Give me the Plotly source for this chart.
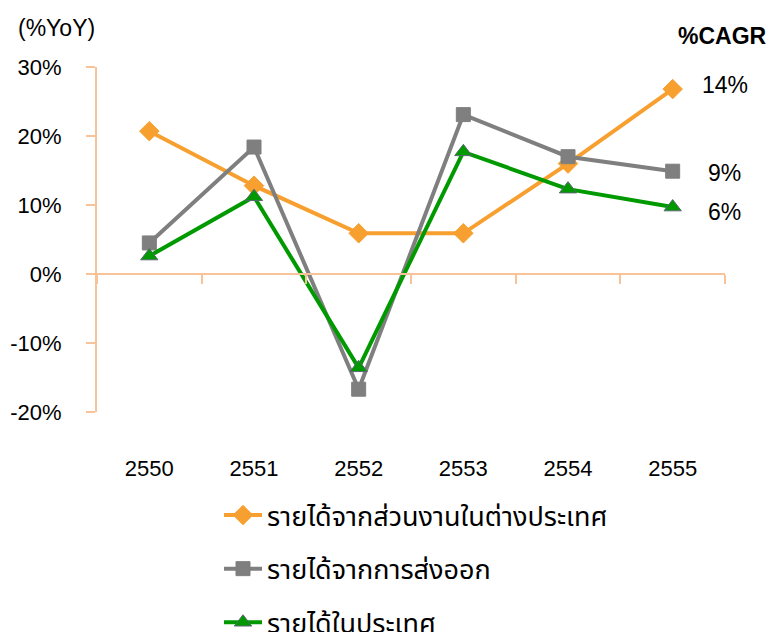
import plotly.graph_objects as go

years = ["2550", "2551", "2552", "2553", "2554", "2555"]
overseas = [20.7, 12.8, 5.9, 5.9, 16.0, 26.8]
export = [4.5, 18.4, -16.7, 23.1, 17.0, 14.9]
domestic = [2.6, 11.2, -13.6, 17.7, 12.3, 9.7]
names = ["รายได้จากส่วนงานในต่างประเทศ", "รายได้จากการส่งออก", "รายได้ในประเทศ"]
cagr = ["14%", "9%", "6%"]
y_ticks = [30, 20, 10, 0, -10, -20]
y_tick_text = ["30%", "20%", "10%", "0%", "-10%", "-20%"]

colors = ["#F7A030", "#7F7F7F", "#009A00"]
symbols = ["diamond", "square", "triangle-up"]
series = [overseas, export, domestic]
axis_color = "#F9C39A"
font_main = "Liberation Sans, Arial, sans-serif"
font_thai = "Noto Sans Thai, Loma, Garuda, Tlwg Typo, Noto Sans, sans-serif"

fig = go.Figure()
for i, (vals, name) in enumerate(zip(series, names)):
    fig.add_trace(go.Scatter(
        x=years, y=vals, name=name, mode="lines+markers",
        line=dict(color=colors[i], width=4),
        marker=dict(symbol=symbols[i], size=15 if i != 1 else 14, color=colors[i],
                    line=dict(color="#5A6673" if i == 2 else colors[i], width=1)),
        legendgroup=str(i), xaxis="x", yaxis="y",
    ))

# invisible helper trace for the zero-crossing category axis
fig.add_trace(go.Scatter(x=years, y=[0] * len(years), mode="markers",
                         marker=dict(opacity=0), showlegend=False, hoverinfo="skip",
                         xaxis="x2", yaxis="y"))

# CAGR labels next to the last point of each series
shifts = [4, -2, -5]
for i, vals in enumerate(series):
    fig.add_annotation(x=len(years) - 1, y=vals[-1], xref="x", yref="y", text=cagr[i],
                       showarrow=False, xshift=52, yshift=shifts[i],
                       xanchor="center", yanchor="middle",
                       font=dict(size=23, color="black", family=font_main))

fig.add_annotation(x=(56 - 97) / 628, y=(412 - 28) / 345, xref="paper", yref="paper",
                   text="(%YoY)", showarrow=False, xanchor="center", yanchor="middle",
                   font=dict(size=23, color="black", family=font_main))
fig.add_annotation(x=(722 - 97) / 628, y=(412 - 36) / 345, xref="paper", yref="paper",
                   text="<b>%CAGR</b>", showarrow=False, xanchor="center", yanchor="middle",
                   font=dict(size=23, color="black", family=font_main))

fig.update_layout(
    width=769, height=632,
    margin=dict(l=97, r=44, t=67, b=220, autoexpand=False),
    plot_bgcolor="white", paper_bgcolor="white",
    showlegend=True,
    legend=dict(x=(219 - 97) / 628, y=(412 - 491) / 345,
                xanchor="left", yanchor="top",
                orientation="v", traceorder="grouped", tracegroupgap=15.5,
                itemwidth=38,
                font=dict(size=27, family=font_thai, color="black"),
                bgcolor="rgba(0,0,0,0)"),
    xaxis=dict(type="category", categoryorder="array", categoryarray=years,
               range=[-0.5, 5.5], showline=False, showgrid=False, zeroline=False,
               ticks="", ticklabelstandoff=41, automargin=False,
               tickfont=dict(size=22, family=font_main, color="black")),
    xaxis2=dict(type="category", categoryorder="array", categoryarray=years,
                range=[-0.5, 5.5], overlaying="x", anchor="free", position=0.4,
                side="bottom", showline=True, linecolor=axis_color, linewidth=2,
                ticks="outside", tickson="boundaries", ticklen=9, tickcolor=axis_color,
                tickwidth=2, showticklabels=False, showgrid=False, zeroline=False),
    yaxis=dict(range=[-20, 30], tickvals=y_ticks, ticktext=y_tick_text,
               showline=True, linecolor=axis_color, linewidth=2,
               ticks="outside", ticklen=9, tickcolor=axis_color, tickwidth=2,
               showgrid=False, zeroline=False, ticklabelstandoff=20, automargin=False,
               tickfont=dict(size=22, family=font_main, color="black")),
)

fig.write_html("out.html", config={"displayModeBar": False},
               post_script="document.body.style.margin='0';document.body.style.padding='0';")
